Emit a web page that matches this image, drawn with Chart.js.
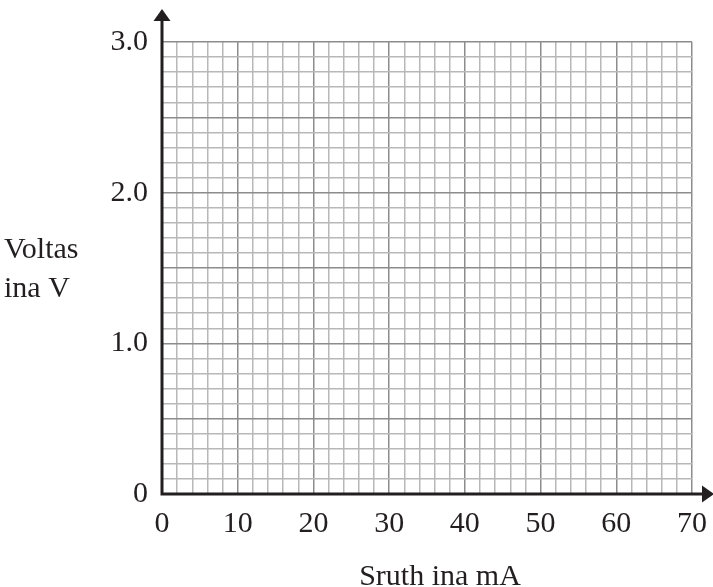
<!DOCTYPE html>
<html>
<head>
<meta charset="utf-8">
<script src="https://cdn.jsdelivr.net/npm/chart.js@4/dist/chart.umd.min.js"></script>
<style>
html,body{margin:0;padding:0;background:#fff;}
#wrap{width:713px;height:587px;}
</style>
</head>
<body>
<div id="wrap"><canvas id="c" width="713" height="587"></canvas></div>
<script>
// Data (empty graph paper)
const xTickValues = [0, 10, 20, 30, 40, 50, 60, 70];
const xTickLabels = ['0', '10', '20', '30', '40', '50', '60', '70'];
const yTickValues = [0, 1, 2, 3];
const yTickLabels = ['0', '1.0', '2.0', '3.0'];
const xRange = [0, 70];
const yRange = [0, 3];
const xMinorStep = 2;
const yMinorStep = 0.1;
const xTitle = 'Sruth ina mA';
const yTitleLines = ['Voltas', 'ina V'];
const seriesPoints = [];

const FONT = "'Liberation Serif', 'Times New Roman', serif";
const FSIZE = 30;

function near(v, arr, eps) {
  for (let i = 0; i < arr.length; i++) if (Math.abs(v - arr[i]) < eps) return i;
  return -1;
}
function isMajor(v, step) {
  const r = v / step;
  return Math.abs(r - Math.round(r)) < 1e-6;
}

const axesPlugin = {
  id: 'axesArrows',
  afterDraw(chart) {
    const ctx = chart.ctx;
    const xs = chart.scales.x, ys = chart.scales.y;
    const x0 = xs.getPixelForValue(xRange[0]);
    const y0 = ys.getPixelForValue(yRange[0]);
    const yTop = ys.getPixelForValue(yRange[1]);
    const xRight = xs.getPixelForValue(xRange[1]);
    ctx.save();
    ctx.strokeStyle = '#231f20';
    ctx.fillStyle = '#231f20';
    ctx.lineWidth = 3;
    ctx.beginPath();
    ctx.moveTo(x0, y0);
    ctx.lineTo(x0, yTop - 26);
    ctx.moveTo(x0 - 1.5, y0);
    ctx.lineTo(xRight + 12, y0);
    ctx.stroke();
    // arrow heads
    ctx.beginPath();
    ctx.moveTo(x0, yTop - 33);
    ctx.lineTo(x0 - 8.5, yTop - 21);
    ctx.lineTo(x0 + 8.5, yTop - 21);
    ctx.closePath();
    ctx.fill();
    ctx.beginPath();
    ctx.moveTo(xRight + 22, y0);
    ctx.lineTo(xRight + 10, y0 - 8.5);
    ctx.lineTo(xRight + 10, y0 + 8.5);
    ctx.closePath();
    ctx.fill();
    // titles
    ctx.font = FSIZE + 'px ' + FONT;
    ctx.fillStyle = '#231f20';
    ctx.textBaseline = 'alphabetic';
    ctx.textAlign = 'left';
    ctx.fillText(yTitleLines[0], 4, 258);
    ctx.fillText(yTitleLines[1], 4, 297);
    ctx.textAlign = 'center';
    ctx.fillText(xTitle, 440, 585);
    ctx.restore();
  }
};

new Chart(document.getElementById('c'), {
  type: 'scatter',
  data: { datasets: [{ data: seriesPoints, showLine: false }] },
  options: {
    responsive: false,
    animation: false,
    devicePixelRatio: 1,
    plugins: { legend: { display: false }, tooltip: { enabled: false } },
    layout: { padding: { top: 42, right: 21, left: 0, bottom: 0 } },
    scales: {
      x: {
        type: 'linear',
        min: xRange[0], max: xRange[1],
        afterFit(s) { s.height = 93; s.paddingLeft = 0; s.paddingRight = 0; },
        border: { display: false },
        grid: {
          drawTicks: false,
          lineWidth: 1.5,
          color: (c) => isMajor(c.tick.value, 10) ? '#8c8c8c' : '#b8b8b8'
        },
        ticks: {
          stepSize: xMinorStep,
          autoSkip: false,
          maxRotation: 0,
          maxTicksLimit: 1000,
          padding: 12,
          color: '#231f20',
          font: { family: FONT, size: FSIZE },
          callback: (v) => { const i = near(v, xTickValues, 1e-6); return i >= 0 ? xTickLabels[i] : ''; }
        }
      },
      y: {
        type: 'linear',
        min: yRange[0], max: yRange[1],
        afterFit(s) { s.width = 162; s.paddingTop = 0; s.paddingBottom = 0; },
        border: { display: false },
        grid: {
          drawTicks: false,
          lineWidth: 1.5,
          color: (c) => isMajor(c.tick.value, 0.5) ? '#8c8c8c' : '#b8b8b8'
        },
        ticks: {
          stepSize: yMinorStep,
          autoSkip: false,
          maxTicksLimit: 1000,
          padding: 14,
          color: '#231f20',
          font: { family: FONT, size: FSIZE },
          callback: (v) => { const i = near(v, yTickValues, 1e-6); return i >= 0 ? yTickLabels[i] : ''; }
        }
      }
    }
  },
  plugins: [axesPlugin]
});
</script>
</body>
</html>
